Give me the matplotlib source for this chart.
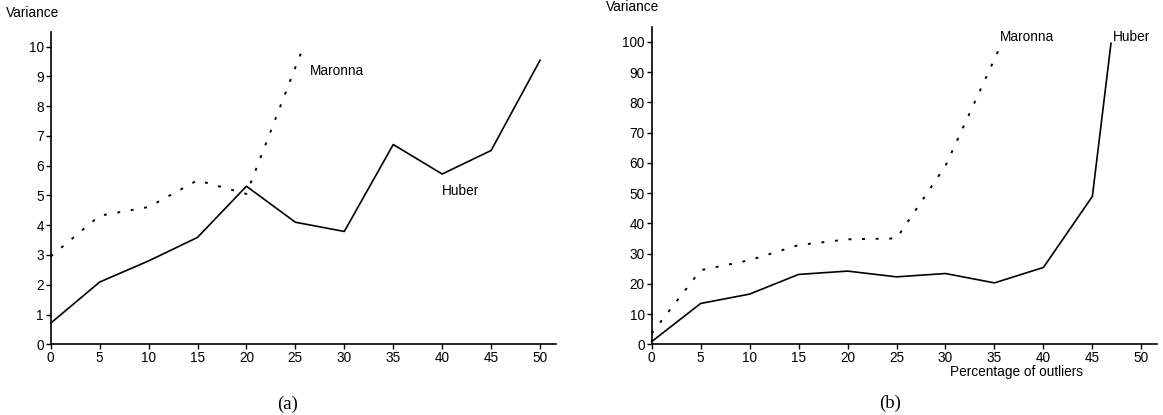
import matplotlib
matplotlib.use("Agg")
import matplotlib.pyplot as plt

plt.rcParams['font.family'] = ['Liberation Sans', 'DejaVu Sans']

# panel (a)
huber_a_x = [0, 5, 10, 15, 20, 25, 30, 35, 40, 45, 50]
huber_a_y = [0.71, 2.09, 2.8, 3.59, 5.31, 4.1, 3.79, 6.71, 5.72, 6.51, 9.54]
maronna_a_x = [0, 5, 10, 15, 20, 25, 25.6]
maronna_a_y = [2.95, 4.32, 4.61, 5.51, 5.05, 9.3, 9.8]

# panel (b)
huber_b_x = [0, 5, 10, 15, 20, 25, 30, 35, 40, 45, 46.9]
huber_b_y = [0.9, 13.5, 16.6, 23.1, 24.2, 22.3, 23.4, 20.3, 25.4, 48.9, 99.5]
maronna_b_x = [0, 5, 10, 15, 20, 25, 30, 35.4]
maronna_b_y = [3.6, 24.5, 27.8, 32.8, 34.7, 35.0, 59.0, 97.1]

xticks = list(range(0, 51, 5))
yticks_a = list(range(0, 11))
yticks_b = list(range(0, 101, 10))

W, H = 1163, 415
fig = plt.figure(figsize=(W / 100, H / 100), dpi=100)

ax1 = fig.add_axes([50.7 / W, (H - 344.3) / H, (555.7 - 50.7) / W, (344.3 - 31.7) / H])
ax2 = fig.add_axes([651.7 / W, (H - 344.3) / H, (1157 - 651.7) / W, (344.3 - 26.7) / H])

dots = (0, (1.5, 5.5))
fs = 9.8

for ax in (ax1, ax2):
    ax.spines['top'].set_visible(False)
    ax.spines['right'].set_visible(False)
    ax.spines['left'].set_linewidth(1.2)
    ax.spines['bottom'].set_linewidth(1.2)
    ax.tick_params(direction='out', length=3.5, width=1.0, labelsize=fs, pad=1.5)
    ax.set_xticks(xticks)

ax1.plot(huber_a_x, huber_a_y, color='black', lw=1.2, clip_on=False)
ax1.plot(maronna_a_x, maronna_a_y, color='black', lw=1.4, linestyle=dots, clip_on=False)
ax1.set_xlim(0, 51.6)
ax1.set_ylim(0, 10.5)
ax1.set_yticks(yticks_a)
ax1.text(26.5, 9.18, 'Maronna', fontsize=fs, va='center', ha='left')
ax1.text(40.0, 5.16, 'Huber', fontsize=fs, va='center', ha='left')

ax2.plot(huber_b_x, huber_b_y, color='black', lw=1.2, clip_on=False)
ax2.plot(maronna_b_x, maronna_b_y, color='black', lw=1.4, linestyle=dots, clip_on=False)
ax2.set_xlim(0, 51.6)
ax2.set_ylim(0, 105)
ax2.set_yticks(yticks_b)
ax2.text(35.6, 101.5, 'Maronna', fontsize=fs, va='center', ha='left')
ax2.text(47.1, 101.5, 'Huber', fontsize=fs, va='center', ha='left')
ax2.text(37.3, -9.0, 'Percentage of outliers', fontsize=fs, va='center', ha='center')

fig.text(6 / W, 1 - 12.7 / H, 'Variance', fontsize=fs, va='center', ha='left')
fig.text(606 / W, 1 - 7.3 / H, 'Variance', fontsize=fs, va='center', ha='left')

fig.text(288 / W, 1 - 404 / H, '(a)', fontsize=13.5, va='center', ha='center',
         family=['Liberation Serif', 'DejaVu Serif'])
fig.text(890 / W, 1 - 403 / H, '(b)', fontsize=13.5, va='center', ha='center',
         family=['Liberation Serif', 'DejaVu Serif'])

fig.savefig('out.png', dpi=100)
